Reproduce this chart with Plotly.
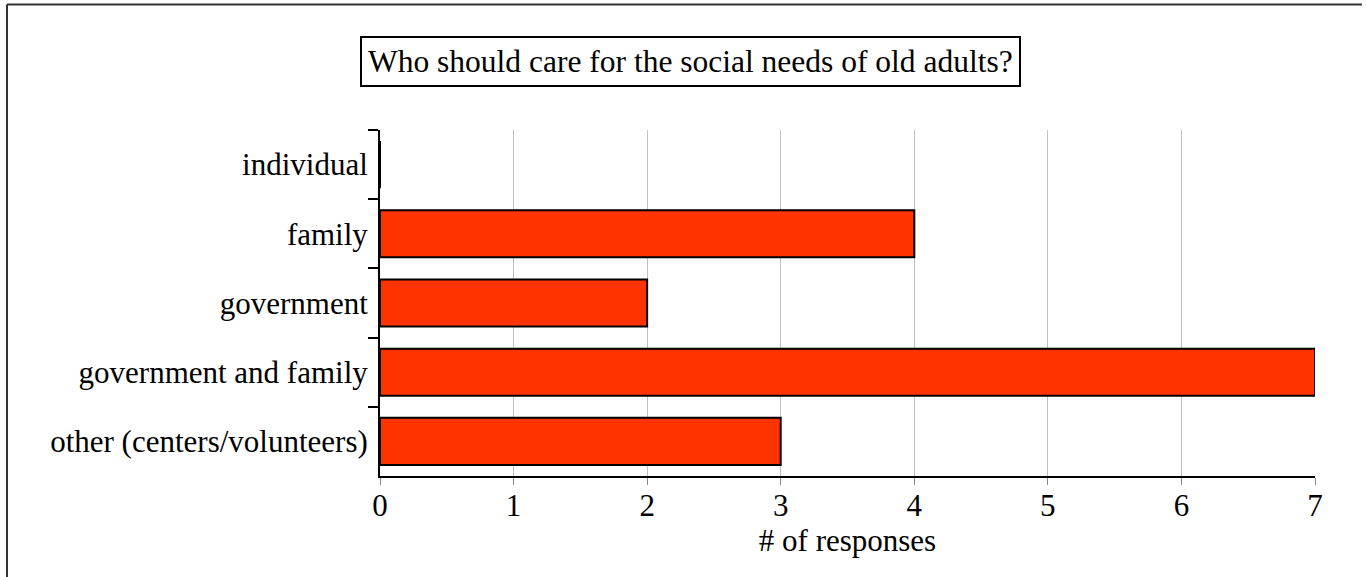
import plotly.graph_objects as go

categories = ["individual", "family", "government", "government and family", "other (centers/volunteers)"]
responses = [0, 4, 2, 7, 3]
x_ticks = [0, 1, 2, 3, 4, 5, 6, 7]
title_text = "Who should care for the social needs of old adults?"
x_title = "# of responses"

W, H = 1367, 577
L, R, T, B = 380, 52, 130, 101
pw, ph = W - L - R, H - T - B

def px(x):
    return (x - L) / pw

def py(y):
    return (H - B - y) / ph

FONT = "Liberation Serif, Times New Roman, serif"
FS = 31

fig = go.Figure(go.Bar(
    x=responses, y=categories, orientation="h",
    marker=dict(color="#ff3300", line=dict(color="black", width=2)),
    width=0.68,
))

fig.update_layout(
    width=W, height=H,
    margin=dict(l=L, r=R, t=T, b=B),
    paper_bgcolor="white", plot_bgcolor="white",
    font=dict(family=FONT, size=FS, color="black"),
    showlegend=False,
    xaxis=dict(
        range=[0, 7], tickvals=x_ticks, showgrid=True, gridcolor="#c0c0c0", gridwidth=1,
        zeroline=False, showline=True, linecolor="black", linewidth=2,
        ticks="outside", ticklen=7, tickcolor="#888888", tickwidth=1,
        tickfont=dict(size=FS), ticklabelstandoff=-6,
        title=dict(text=x_title, font=dict(size=FS), standoff=0),
    ),
    yaxis=dict(
        categoryorder="array", categoryarray=categories,
        range=[4.5, -0.5], showgrid=False, zeroline=False,
        showline=True, linecolor="black", linewidth=2,
        ticks="outside", tickson="boundaries", ticklen=10, tickwidth=2, tickcolor="black",
        tickfont=dict(size=FS), ticklabelstandoff=4,
    ),
    annotations=[dict(
        text=title_text, xref="paper", yref="paper",
        x=px(690.5), y=py(61.5), xanchor="center", yanchor="middle",
        showarrow=False, font=dict(size=31.5, family=FONT, color="black"),
        bordercolor="black", borderwidth=2, borderpad=6, bgcolor="white",
    )],
    shapes=[
        dict(type="line", xref="paper", yref="paper", x0=px(7), x1=px(1362), y0=py(4.5), y1=py(4.5),
             line=dict(color="#333333", width=2)),
        dict(type="line", xref="paper", yref="paper", x0=px(7), x1=px(7), y0=py(4.5), y1=py(580),
             line=dict(color="#333333", width=2)),
    ],
)

fig.write_html("out.html", config={"displayModeBar": False},
               post_script="document.body.style.margin='0';document.body.style.padding='0';")
